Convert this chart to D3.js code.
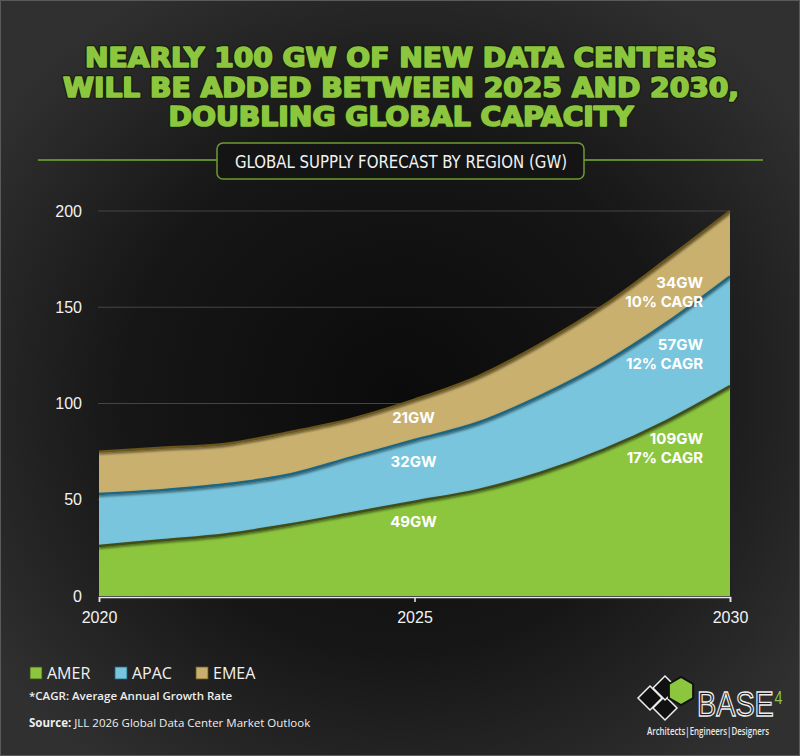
<!DOCTYPE html>
<html>
<head>
<meta charset="utf-8">
<script src="https://cdn.jsdelivr.net/npm/d3@7"></script>
<style>
  html, body { margin: 0; padding: 0; background: #1c1c1c; }
  svg { display: block; }
</style>
</head>
<body>
<script>
// data (GW per region)
const years = [2020, 2021, 2022, 2023, 2024, 2025, 2026, 2027, 2028, 2029, 2030];
const amer = [26, 29, 32, 37, 43, 49, 55, 64, 76, 91, 109];
const apac = [27, 26, 26, 26, 29, 32, 35, 40, 45, 51, 57];
const emea = [22, 22, 21, 22, 20, 21, 24, 27, 30, 33, 34];
const regions = ['AMER', 'APAC', 'EMEA'];
const yTicks = [0, 50, 100, 150, 200];
const xTicks = [2020, 2025, 2030];

const titleLines = [
  'NEARLY 100 GW OF NEW DATA CENTERS',
  'WILL BE ADDED BETWEEN 2025 AND 2030,',
  'DOUBLING GLOBAL CAPACITY'
];

// labels: year, value position, text lines
const midLabels = [
  { year: 2025, v: 90, lines: ['21GW'] },
  { year: 2025, v: 67, lines: ['32GW'] },
  { year: 2025, v: 36, lines: ['49GW'] }
];
const endLabels = [
  { year: 2030, v: 160, lines: ['34GW', '10% CAGR'] },
  { year: 2030, v: 128, lines: ['57GW', '12% CAGR'] },
  { year: 2030, v: 79, lines: ['109GW', '17% CAGR'] }
];

const colors = { AMER: '#8cc63e', APAC: '#78c5dd', EMEA: '#c9b06e' };
const edges = { AMER: '#3f4d16', APAC: '#1d6683', EMEA: '#6b561b' };

const W = 800, H = 756;

const svg = d3.select('body')
  .append('svg')
  .attr('width', W)
  .attr('height', H);

const defs = svg.append('defs');
const bg = defs.append('radialGradient')
  .attr('id', 'bg')
  .attr('cx', '50%').attr('cy', '52%').attr('r', '62%');
bg.append('stop').attr('offset', '0%').attr('stop-color', '#0b0b0b');
bg.append('stop').attr('offset', '55%').attr('stop-color', '#161616');
bg.append('stop').attr('offset', '100%').attr('stop-color', '#303030');

const shadow = defs.append('filter').attr('id', 'shadow')
  .attr('x', '-5%').attr('y', '-5%').attr('width', '110%').attr('height', '120%');
shadow.append('feDropShadow')
  .attr('dx', 0).attr('dy', 1.5).attr('stdDeviation', 1)
  .attr('flood-color', '#000').attr('flood-opacity', 0.6);

svg.append('rect')
  .attr('width', W).attr('height', H)
  .attr('fill', 'url(#bg)');
svg.append('rect')
  .attr('x', 0.5).attr('y', 0.5)
  .attr('width', W - 1).attr('height', H - 1)
  .attr('fill', 'none')
  .attr('stroke', '#5a5a5a');

// title
const titleY = [67, 97, 126];
const titleW = [632, 676, 465];
titleLines.forEach(function(t, i) {
  [0, 1].forEach(function(pass) {
    svg.append('text')
      .attr('x', W / 2 + 1)
      .attr('y', titleY[i])
      .attr('text-anchor', 'middle')
      .attr('textLength', titleW[i])
      .attr('lengthAdjust', 'spacingAndGlyphs')
      .style('font-family', '"Liberation Sans Narrow", "DejaVu Sans Condensed", sans-serif')
      .style('font-weight', 'bold')
      .style('font-size', '27px')
      .attr('fill', '#8cc63e')
      .attr('stroke', pass === 0 ? '#1a1f10' : '#8cc63e')
      .attr('stroke-width', pass === 0 ? 4 : 1.6)
      .attr('stroke-linejoin', 'round')
      .text(t);
  });
});

// subtitle box
svg.append('line')
  .attr('x1', 38).attr('x2', 217).attr('y1', 160).attr('y2', 160)
  .attr('stroke', '#5e8b2c').attr('stroke-width', 2);
svg.append('line')
  .attr('x1', 584).attr('x2', 763).attr('y1', 160).attr('y2', 160)
  .attr('stroke', '#5e8b2c').attr('stroke-width', 2);
svg.append('rect')
  .attr('x', 217).attr('y', 143).attr('width', 367).attr('height', 36)
  .attr('rx', 6)
  .attr('fill', '#141414')
  .attr('stroke', '#6c9a33').attr('stroke-width', 1.5);
svg.append('text')
  .attr('x', 401).attr('y', 168)
  .attr('text-anchor', 'middle')
  .attr('textLength', 332)
  .attr('lengthAdjust', 'spacingAndGlyphs')
  .style('font-family', '"Liberation Sans Narrow", "DejaVu Sans Condensed", sans-serif')
  .style('font-size', '17px')
  .attr('fill', '#f2f2f2')
  .text('GLOBAL SUPPLY FORECAST BY REGION (GW)');

// scales
const x = d3.scaleLinear().domain([2020, 2030]).range([99, 730]);
const y = d3.scaleLinear().domain([0, 200]).range([596, 211]);

// gridlines
svg.append('g')
  .selectAll('line')
  .data(yTicks.filter(d => d > 0))
  .enter()
  .append('line')
  .attr('x1', x(2020) - 1).attr('x2', x(2030))
  .attr('y1', d => y(d)).attr('y2', d => y(d))
  .attr('stroke', '#444').attr('stroke-width', 1.2);

// stacked areas
const table = years.map((yr, i) => ({ year: yr, AMER: amer[i], APAC: apac[i], EMEA: emea[i] }));
const series = d3.stack().keys(regions)(table);

const area = d3.area()
  .x(d => x(d.data.year))
  .y0(d => y(d[0]))
  .y1(d => y(d[1]))
  .curve(d3.curveMonotoneX);

const topLine = d3.line()
  .x(d => x(d.data.year))
  .y(d => y(d[1]))
  .curve(d3.curveMonotoneX);

const plot = svg.append('g');
plot.selectAll('path.area')
  .data(series)
  .enter()
  .append('path')
  .attr('class', 'area')
  .attr('d', area)
  .attr('fill', d => colors[d.key]);

plot.selectAll('path.edge')
  .data(series)
  .enter()
  .append('path')
  .attr('class', 'edge')
  .attr('d', topLine)
  .attr('fill', 'none')
  .attr('stroke', d => edges[d.key])
  .attr('stroke-width', 2.5)
  .attr('filter', 'url(#shadow)');

// right edge
svg.append('line')
  .attr('x1', x(2030) + 1).attr('x2', x(2030) + 1)
  .attr('y1', y(199)).attr('y2', y(0))
  .attr('stroke', '#222').attr('stroke-width', 1.5);

// x axis
const xAxis = svg.append('g')
  .attr('transform', `translate(0,${y(0) + 1})`)
  .call(d3.axisBottom(x).tickValues(xTicks).tickFormat(d3.format('d')).tickSize(5).tickPadding(10));
xAxis.select('.domain').attr('stroke', '#e8e8e8').attr('stroke-width', 1.5);
xAxis.selectAll('.tick line').attr('stroke', '#e8e8e8').attr('stroke-width', 1.5);
xAxis.selectAll('.tick text')
  .attr('fill', '#f2f2f2')
  .style('font-family', '"Liberation Sans", Arial, sans-serif')
  .style('font-size', '16px');

// y axis labels
const yAxis = svg.append('g')
  .attr('transform', `translate(${x(2020) - 17},0)`)
  .call(d3.axisLeft(y).tickValues(yTicks).tickSize(0).tickPadding(0));
yAxis.select('.domain').remove();
yAxis.selectAll('.tick text')
  .attr('fill', '#f2f2f2')
  .style('font-family', '"Liberation Sans", Arial, sans-serif')
  .style('font-size', '16px');

// value labels
const labelFont = 'Inter, "Open Sans", "Liberation Sans", sans-serif';
svg.append('g')
  .selectAll('text')
  .data(midLabels)
  .enter()
  .append('text')
  .attr('x', d => x(d.year) - 1)
  .attr('y', d => y(d.v))
  .attr('text-anchor', 'middle')
  .style('font-family', labelFont)
  .style('font-weight', 'bold')
  .style('font-size', '15px')
  .attr('fill', '#fff')
  .text(d => d.lines[0]);

const endG = svg.append('g')
  .selectAll('text')
  .data(endLabels)
  .enter()
  .append('text')
  .attr('text-anchor', 'end')
  .style('font-family', labelFont)
  .style('font-weight', 'bold')
  .style('font-size', '15px')
  .attr('fill', '#fff');
endG.selectAll('tspan')
  .data(d => d.lines.map((l, i) => ({ l: l, i: i, d: d })))
  .enter()
  .append('tspan')
  .attr('x', d => x(d.d.year) - 27)
  .attr('y', d => y(d.d.v) + d.i * 19)
  .text(d => d.l);

// legend
const legX = [30, 115, 196];
const leg = svg.append('g')
  .selectAll('g')
  .data(regions)
  .enter()
  .append('g')
  .attr('transform', (d, i) => `translate(${legX[i]},667)`);
leg.append('rect')
  .attr('width', 12).attr('height', 12)
  .attr('fill', d => colors[d])
  .attr('stroke', d => edges[d]).attr('stroke-width', 0.8);
leg.append('text')
  .attr('x', 17).attr('y', 12)
  .style('font-family', '"Open Sans", "Liberation Sans", sans-serif')
  .style('font-size', '16px')
  .attr('fill', '#f2f2f2')
  .text(d => d);

svg.append('text')
  .attr('x', 29).attr('y', 700)
  .style('font-family', '"Open Sans", sans-serif')
  .style('font-weight', 600)
  .style('font-size', '11.5px')
  .attr('fill', '#eee')
  .text('*CAGR: Average Annual Growth Rate');

const src = svg.append('text')
  .attr('x', 29).attr('y', 727)
  .style('font-family', '"Open Sans", sans-serif')
  .style('font-size', '11.5px')
  .attr('fill', '#eee');
src.append('tspan').style('font-weight', 700).text('Source: ');
src.append('tspan').text('JLL 2026 Global Data Center Market Outlook');

// logo
const logo = svg.append('g').attr('transform', 'translate(637,698)');
const sq = 12;
const diamond = (cx, cy) => `M${cx - sq},${cy} L${cx},${cy - sq} L${cx + sq},${cy} L${cx},${cy + sq} Z`;
[[13, 0], [28, 10], [28, -10]].forEach(function(p) {
  logo.append('path')
    .attr('d', diamond(p[0], p[1]))
    .attr('fill', '#111')
    .attr('stroke', '#eee').attr('stroke-width', 1.5);
});
const hex = d3.range(6).map(k => {
  const a = Math.PI / 3 * k + Math.PI / 6;
  return [44 + 14 * Math.cos(a), -7 + 14 * Math.sin(a)];
});
logo.append('path')
  .attr('d', 'M' + hex.join('L') + 'Z')
  .attr('fill', '#8cc63e')
  .attr('stroke', '#111').attr('stroke-width', 2);
const brand = logo.append('text')
  .attr('transform', 'translate(60,18) scale(0.8,1)')
  .style('font-family', '"Liberation Sans Narrow", sans-serif')
  .style('font-size', '36px');
brand.append('tspan')
  .attr('fill', '#1a1a1a')
  .attr('stroke', '#eee').attr('stroke-width', 1.4)
  .text('BASE');
brand.append('tspan')
  .attr('dy', -12)
  .attr('dx', 1)
  .style('font-size', '18px')
  .attr('fill', '#8cc63e')
  .text('4');
svg.append('text')
  .attr('x', 708).attr('y', 735)
  .attr('text-anchor', 'middle')
  .attr('textLength', 122)
  .attr('lengthAdjust', 'spacingAndGlyphs')
  .style('font-family', '"Open Sans", sans-serif')
  .style('font-weight', 600)
  .style('font-size', '10px')
  .attr('fill', '#e8e8e8')
  .text('Architects|Engineers|Designers');
</script>
</body>
</html>
